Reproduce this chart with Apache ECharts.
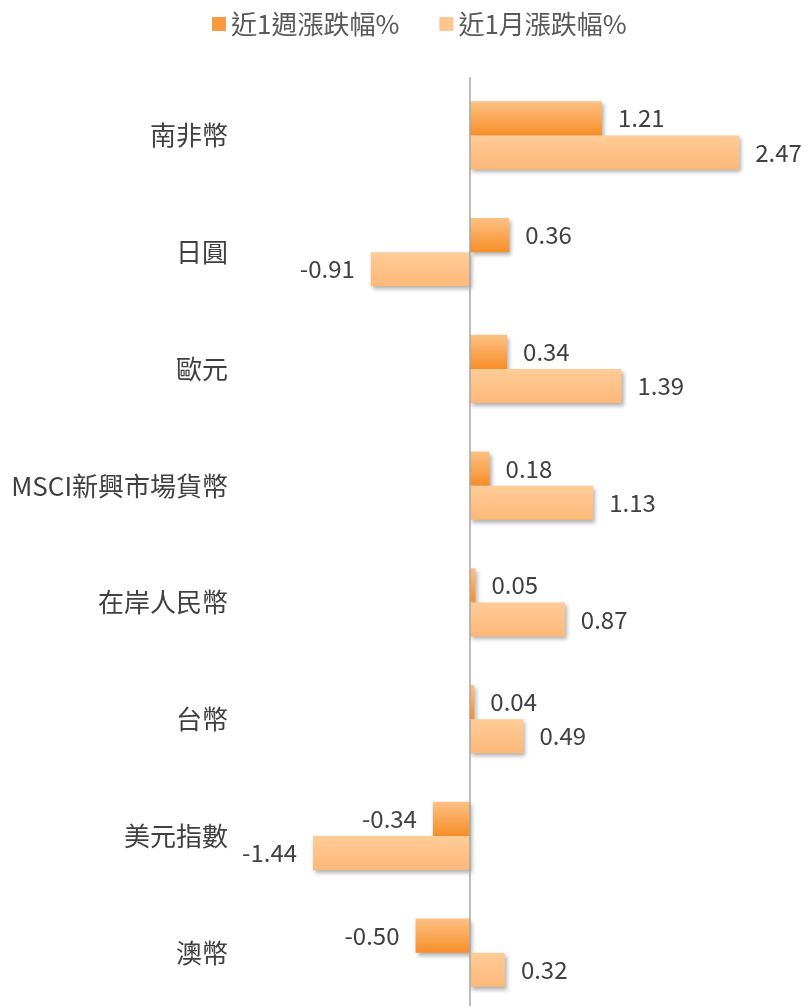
<!DOCTYPE html>
<html>
<head>
<meta charset="utf-8">
<title>貨幣漲跌幅</title>
<script src="https://cdn.jsdelivr.net/npm/echarts@6/dist/echarts.min.js"></script>
<style>
  html, body { margin: 0; padding: 0; background: #fff; overflow: hidden; }
  /* 圖表比視窗略高，最後一組底部留到畫面外 */
  #chart { width: 805px; height: 1016px; }
</style>
</head>
<body>
<div id="chart"></div>
<script>
const categories = ['南非幣', '日圓', '歐元', 'MSCI新興市場貨幣', '在岸人民幣', '台幣', '美元指數', '澳幣']
const seriesNames = ['近1週漲跌幅%', '近1月漲跌幅%']
const weekValues = [1.21, 0.36, 0.34, 0.18, 0.05, 0.04, -0.34, -0.50]
const monthValues = [2.47, -0.91, 1.39, 1.13, 0.87, 0.49, -1.44, 0.32]

const font = '"Noto Sans CJK TC", "Noto Sans", sans-serif'
const textColor = '#404040'

const chart = echarts.init(document.getElementById('chart'))

// 正值標籤放右邊，負值放左邊
const toItems = (values) => values.map(v => ({
  value: v,
  label: { position: v < 0 ? 'left' : 'right' }
}))

const makeGradient = (top, bottom) => new echarts.graphic.LinearGradient(0, 0, 0, 1, [
  { offset: 0, color: top },
  { offset: 1, color: bottom }
])

const barStyle = (top, bottom) => ({
  color: makeGradient(top, bottom),
  shadowColor: 'rgba(0, 0, 0, 0.3)',
  shadowBlur: 4,
  shadowOffsetX: 2,
  shadowOffsetY: 3
})

const labelStyle = {
  show: true,
  distance: 16,
  fontSize: 24,
  fontFamily: font,
  color: textColor,
  formatter: (p) => p.value.toFixed(2)
}

const option = {
  animation: false,
  legend: {
    top: 6,
    left: 207,
    itemWidth: 14,
    itemHeight: 14,
    itemGap: 40,
    icon: 'rect',
    textStyle: { fontSize: 26, fontFamily: font, color: '#595959' },
    data: [
      { name: seriesNames[0], itemStyle: { color: '#F89A3E', shadowBlur: 0, shadowOffsetX: 0, shadowOffsetY: 0 } },
      { name: seriesNames[1], itemStyle: { color: '#FEC58E', shadowBlur: 0, shadowOffsetX: 0, shadowOffsetY: 0 } }
    ]
  },
  grid: {
    left: 252,
    right: 8,
    top: 77,
    height: 934
  },
  xAxis: {
    type: 'value',
    min: -2,
    max: 3,
    show: false
  },
  yAxis: {
    type: 'category',
    inverse: true,
    data: categories,
    axisLine: { show: false, onZero: false },
    axisTick: { show: false },
    axisLabel: {
      margin: 24,
      fontSize: 26,
      fontFamily: font,
      color: textColor
    }
  },
  series: [
    {
      name: seriesNames[0],
      type: 'bar',
      data: toItems(weekValues),
      barGap: '0%',
      barCategoryGap: '41.6%',
      itemStyle: barStyle('#FDC184', '#F78E28'),
      label: labelStyle,
      markLine: {
        silent: true,
        symbol: 'none',
        label: { show: false },
        lineStyle: { color: '#A6A6A6', width: 1.5, type: 'solid' },
        data: [{ xAxis: 0 }]
      }
    },
    {
      name: seriesNames[1],
      type: 'bar',
      data: toItems(monthValues),
      barGap: '0%',
      barCategoryGap: '41.6%',
      itemStyle: barStyle('#FFCC98', '#FDB878'),
      label: labelStyle
    }
  ]
}

chart.setOption(option)
</script>
</body>
</html>
